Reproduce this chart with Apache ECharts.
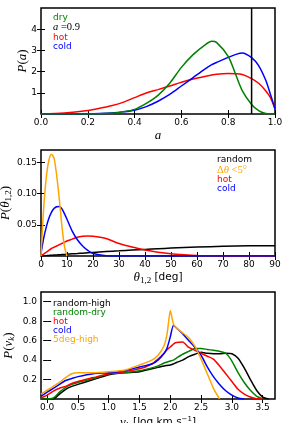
<!DOCTYPE html>
<html><head><meta charset="utf-8">
<script src="https://cdn.jsdelivr.net/npm/echarts@6/dist/echarts.min.js"></script>
<style>html,body{margin:0;padding:0;background:#fff}#c{width:293px;height:423px}</style>
</head><body><div id="c"></div>
<script>
// ---------- Panel 1: P(a) ----------
const aX    = [0,0.1,0.2,0.25,0.3,0.35,0.4,0.45,0.5,0.55,0.6,0.65,0.7,0.73,0.75,0.8,0.83,0.86,0.9,0.93,0.96,0.98,1.0];
const aDry  = [0,0,0,0.01,0.04,0.1,0.22,0.5,0.88,1.45,2.2,2.8,3.25,3.43,3.38,2.72,1.92,1.1,0.45,0.16,0.02,0,0];
const aHot  = [0,0.05,0.17,0.27,0.39,0.55,0.77,0.99,1.15,1.32,1.5,1.65,1.77,1.84,1.88,1.91,1.9,1.86,1.67,1.45,1.1,0.78,0.24];
const aCold = [0,0,0.005,0.02,0.05,0.1,0.18,0.35,0.6,0.92,1.32,1.72,2.12,2.33,2.43,2.67,2.8,2.88,2.66,2.28,1.6,0.95,0.24];
const aCut  = 0.9;
const aTicksX = [0,0.2,0.4,0.6,0.8,1.0];
const aTicksY = [1,2,3,4];

// ---------- Panel 2: P(theta_12) ----------
const tX      = [0,1,2,3,4,5,6,7,8,9,10,12,14,16,18,20,25,30,35,40,45,50,55,60,70,80,90];
const tRandom = [0,0.0003,0.0006,0.0009,0.0012,0.0015,0.0017,0.002,0.0023,0.0026,0.0029,0.0035,0.004,0.0046,0.0052,0.0057,0.0071,0.0083,0.0095,0.0106,0.0117,0.0127,0.0136,0.0143,0.0155,0.0163,0.0165];
const tSmall  = [0,0.075,0.125,0.153,0.163,0.157,0.13,0.093,0.05,0.016,0,null,null,null,null,null,null,null,null,null,null,null,null,null,null,null,null];
const tHot    = [0,0.003,0.006,0.009,0.012,0.014,0.016,0.018,0.02,0.022,0.024,0.027,0.03,0.0315,0.032,0.0315,0.028,0.02,0.0145,0.0095,0.006,0.0035,0.002,0.001,0.0002,0,0];
const tCold   = [0.004,0.028,0.046,0.06,0.07,0.076,0.079,0.0795,0.076,0.068,0.059,0.04,0.026,0.016,0.009,0.004,0.0005,0,0,0,0,0,0,0,0,0,0];
const tTicksX = [0,10,20,30,40,50,60,70,80,90];
const tTicksY = [0.05,0.10,0.15];

// ---------- Panel 3: P(v_k) ----------
const vX          = [-0.1,0,0.1,0.2,0.3,0.4,0.5,0.75,1.0,1.25,1.5,1.7,1.8,1.9,1.95,2.0,2.05,2.1,2.2,2.3,2.4,2.5,2.6,2.7,2.8,2.9,3.0,3.1,3.2,3.3,3.4,3.5,3.6];
const vRandomHigh = [0,0,0,0.05,0.10,0.13,0.15,0.2,0.25,0.27,0.28,0.31,0.325,0.34,0.345,0.35,0.36,0.375,0.40,0.435,0.46,0.48,0.47,0.465,0.465,0.47,0.465,0.42,0.32,0.2,0.09,0.02,0];
const vRandomDry  = [0,0,0.01,0.07,0.12,0.15,0.17,0.21,0.26,0.27,0.29,0.32,0.34,0.37,0.38,0.39,0.40,0.42,0.46,0.49,0.52,0.52,0.51,0.50,0.49,0.47,0.39,0.27,0.17,0.09,0.03,0,null];
const vHot        = [0.01,0.04,0.08,0.11,0.13,0.16,0.18,0.22,0.26,0.28,0.31,0.36,0.41,0.47,0.51,0.535,0.565,0.58,0.585,0.53,0.50,0.47,0.44,0.41,0.34,0.26,0.18,0.10,0.05,0.02,0.003,0,null];
const vCold       = [0.03,0.07,0.11,0.15,0.19,0.21,0.23,0.26,0.27,0.29,0.33,0.36,0.40,0.47,0.53,0.64,0.755,0.73,0.67,0.60,0.53,0.45,0.33,0.23,0.15,0.085,0.04,0.01,0,null,null,null,null];
const v5deg       = [0.05,0.09,0.13,0.17,0.22,0.26,0.27,0.27,0.28,0.295,0.35,0.40,0.45,0.55,0.68,0.91,0.77,0.73,0.68,0.63,0.54,0.41,0.26,0.11,0,null,null,null,null,null,null,null,null];
const vTicksX = [0,0.5,1.0,1.5,2.0,2.5,3.0,3.5];
const vTicksY = [0.2,0.4,0.6,0.8,1.0];

const GREEN = '#008000', RED = '#ff0000', BLUE = '#0000ff', ORANGE = '#ffa500', BLACK = '#000000';

function zip(xs, ys){ const out=[]; for(let i=0;i<xs.length;i++){ if(ys[i]!==null && ys[i]!==undefined) out.push([xs[i], ys[i]]);} return out; }

const grids = [
  {left:41, top:8,   width:234, height:106},
  {left:41, top:150, width:234, height:106},
  {left:41, top:292, width:234, height:107}
];

const mathRich = {
  i:{fontFamily:'Liberation Serif', fontStyle:'italic', fontSize:13, color:'#000'},
  r:{fontFamily:'Liberation Serif', fontSize:13, color:'#000'},
  s:{fontFamily:'Liberation Serif', fontStyle:'italic', fontSize:9, color:'#000', padding:[6,0,0,0]},
  sr:{fontFamily:'Liberation Serif', fontSize:9, color:'#000', padding:[6,0,0,0]},
  sup:{fontFamily:'DejaVu Sans', fontSize:7, color:'#000', padding:[0,0,6,0]},
  t:{fontFamily:'DejaVu Sans', fontSize:10.5, color:'#000'}
};

function fmt(d){ return v => v.toFixed(d); }

function mainX(gi, min, max, ticks, d, name, gap){
  return {
    gridIndex:gi, type:'value', min:min, max:max, position:'bottom',
    axisLine:{show:false}, splitLine:{show:false},
    axisTick:{show:true, inside:true, length:4, customValues:ticks, lineStyle:{color:'#000', width:1}},
    axisLabel:{customValues:ticks, formatter:fmt(d), margin:4, fontSize:9, fontFamily:'DejaVu Sans', color:'#000'},
    name:name, nameLocation:'middle', nameGap:gap, nameMoveOverlap:false, nameTextStyle:{rich:mathRich}
  };
}
function topX(gi, min, max, ticks){
  return {
    gridIndex:gi, type:'value', min:min, max:max, position:'top',
    axisLine:{show:false}, splitLine:{show:false}, axisLabel:{show:false},
    axisTick:{show:true, inside:true, length:4, customValues:ticks, lineStyle:{color:'#000', width:1}}
  };
}
function mainY(gi, min, max, ticks, d, name, gap){
  return {
    gridIndex:gi, type:'value', min:min, max:max, position:'left',
    axisLine:{show:false}, splitLine:{show:false},
    axisTick:{show:true, inside:true, length:4, customValues:ticks, lineStyle:{color:'#000', width:1}},
    axisLabel:{customValues:ticks, formatter:fmt(d), margin:4, fontSize:9, fontFamily:'DejaVu Sans', color:'#000'},
    name:name, nameLocation:'middle', nameGap:gap, nameRotate:90, nameMoveOverlap:false, nameTextStyle:{rich:mathRich}
  };
}
function rightY(gi, min, max, ticks){
  return {
    gridIndex:gi, type:'value', min:min, max:max, position:'right',
    axisLine:{show:false}, splitLine:{show:false}, axisLabel:{show:false},
    axisTick:{show:true, inside:true, length:4, customValues:ticks, lineStyle:{color:'#000', width:1}}
  };
}

function line(name, xi, yi, data, color, smooth){
  return {type:'line', name:name, xAxisIndex:xi, yAxisIndex:yi, data:data, showSymbol:false, symbol:'none',
          smooth:smooth, lineStyle:{color:color, width:1.5}, itemStyle:{color:color}, z:3, animation:false};
}

const legendRich = {
  i:{fontFamily:'Liberation Serif', fontStyle:'italic', fontSize:10.5},
  r:{fontFamily:'Liberation Serif', fontSize:10.5}
};
function legendFmt(name){
  if(name==='a=0.9') return '{i|a}{r| =0.9}';
  if(name==='Δθ<5°') return '{r|Δ}{i|θ}{r| <5°}';
  return name;
}
function legend(left, top, items){
  return {
    orient:'vertical', left:left, top:top, icon:'none', itemWidth:0, itemHeight:8, itemGap:0, padding:0,
    selectedMode:false, formatter:legendFmt,
    textStyle:{fontSize:9, fontFamily:'DejaVu Sans', lineHeight:8.7, rich:legendRich},
    data: items.map(it => ({name:it[0], textStyle:{color:it[1]}}))
  };
}

const option = {
  animation:false,
  backgroundColor:'#fff',
  grid: grids.map(g => Object.assign({show:true, borderColor:'#000', borderWidth:1.5, backgroundColor:'transparent', outerBoundsMode:'none', containLabel:false}, g)),
  xAxis:[
    mainX(0, 0, 1, aTicksX, 1, '{i|a}', 15),
    mainX(1, 0, 90, tTicksX, 0, '{i|θ}{sr|1,2}{t| [deg]}', 14),
    mainX(2, -0.1, 3.7, vTicksX, 1, '{i|v}{s|k}{t| [log km s}{sup|−1}{t|]}', 16),
    topX(0, 0, 1, aTicksX),
    topX(1, 0, 90, tTicksX),
    topX(2, -0.1, 3.7, vTicksX)
  ],
  yAxis:[
    mainY(0, 0, 5, aTicksY, 0, '{i|P}{r|(}{i|a}{r|)}', 12),
    mainY(1, 0, 0.17, tTicksY, 2, '{i|P}{r|(}{i|θ}{sr|1,2}{r|)}', 28),
    mainY(2, 0, 1.1, vTicksY, 1, '{i|P}{r|(}{i|v}{s|k}{r|)}', 25),
    rightY(0, 0, 5, aTicksY),
    rightY(1, 0, 0.17, tTicksY),
    rightY(2, 0, 1.1, vTicksY)
  ],
  legend:[
    legend(48, 13, [['dry',GREEN],['a=0.9',BLACK],['hot',RED],['cold',BLUE]]),
    legend(212, 155.5, [['random',BLACK],['Δθ<5°',ORANGE],['hot',RED],['cold',BLUE]]),
    legend(48, 299.5, [['random-high',BLACK],['random-dry',GREEN],['hot',RED],['cold',BLUE],['5deg-high',ORANGE]])
  ],
  series:[
    line('hot', 0, 0, zip(aX, aHot), RED, 0.3),
    line('cold', 0, 0, zip(aX, aCold), BLUE, 0.3),
    line('dry', 0, 0, zip(aX, aDry), GREEN, 0.3),
    line('a=0.9', 0, 0, [[aCut,0],[aCut,5]], BLACK, false),

    line('random', 1, 1, zip(tX, tRandom), BLACK, 0.3),
    line('hot', 1, 1, zip(tX, tHot), RED, 0.3),
    line('cold', 1, 1, zip(tX, tCold), BLUE, 0.3),
    line('Δθ<5°', 1, 1, zip(tX, tSmall), ORANGE, 0.3),

    line('random-high', 2, 2, zip(vX, vRandomHigh), BLACK, 0.2),
    line('random-dry', 2, 2, zip(vX, vRandomDry), GREEN, 0.2),
    line('hot', 2, 2, zip(vX, vHot), RED, 0.2),
    line('cold', 2, 2, zip(vX, vCold), BLUE, 0.2),
    line('5deg-high', 2, 2, zip(vX, v5deg), ORANGE, 0.2)
  ]
};

const chart = echarts.init(document.getElementById('c'), null, {renderer:'canvas'});
chart.setOption(option);
</script>
</body></html>
